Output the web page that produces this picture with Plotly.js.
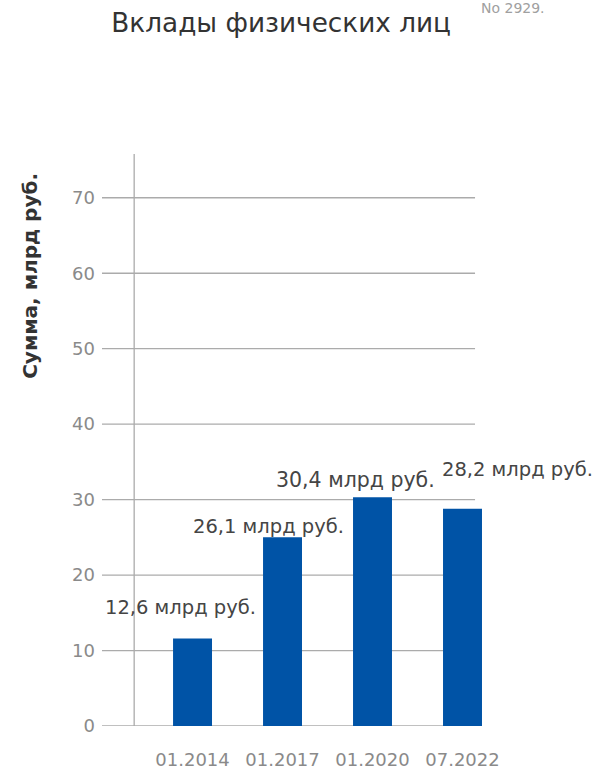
<!DOCTYPE html>
<html>
<head>
<meta charset="utf-8">
<script src="https://cdn.plot.ly/plotly-3.0.1.min.js"></script>
<style>
  html, body { margin: 0; padding: 0; background: #fff; }
  #chart { width: 602px; height: 770px; }
</style>
</head>
<body>
<div id="chart"></div>
<script>
// ---- data ----
const categories = ['01.2014', '01.2017', '01.2020', '07.2022'];
const values = [11.6, 25.0, 30.3, 28.8];
const valueLabels = ['12,6 млрд руб.', '26,1 млрд руб.', '30,4 млрд руб.', '28,2 млрд руб.'];
const yTickValues = [0, 10, 20, 30, 40, 50, 60, 70];
const yTickLabels = ['0', '10', '20', '30', '40', '50', '60', '70'];
const chartTitle = 'Вклады физических лиц';
const yTitle = 'Сумма, млрд руб.';
const noteText = 'No 2929.';

// ---- styles ----
const FONT = 'DejaVu Sans';
const barColor = '#0053A6';
const gridColor = '#ababab';
const labelShiftX = [-12, -14, -17, 55];
const labelShiftY = [31, 11, 17, 39];
const labelSizes = [19.5, 19.5, 20.5, 19.5];

const trace = {
  type: 'bar',
  x: categories,
  y: values,
  marker: { color: barColor },
  width: 0.433,
  hoverinfo: 'skip'
};

const gridShapes = yTickValues.map(v => ({
  type: 'line', xref: 'paper', yref: 'y',
  x0: 0, x1: 0.974, y0: v, y1: v,
  line: { color: gridColor, width: 1.3 },
  layer: 'below'
}));
gridShapes.push({
  type: 'line', xref: 'paper', yref: 'paper',
  x0: 0.084, x1: 0.084, y0: 0, y1: 1,
  line: { color: gridColor, width: 1.3 },
  layer: 'below'
});

// category axis: annotation x uses the category's serial index
const labelAnnotations = categories.map((c, i) => ({
  x: i, y: values[i], xref: 'x', yref: 'y',
  text: valueLabels[i], showarrow: false,
  xanchor: 'center', yanchor: 'middle',
  xshift: labelShiftX[i], yshift: labelShiftY[i],
  font: { family: FONT, size: labelSizes[i], color: '#454545' }
}));

labelAnnotations.push({
  xref: 'paper', yref: 'paper', x: -0.188, y: 0.787,
  text: '<b>' + yTitle + '</b>', textangle: -90, showarrow: false,
  xanchor: 'center', yanchor: 'middle',
  font: { family: FONT, size: 20, color: '#333333' }
});
labelAnnotations.push({
  xref: 'paper', yref: 'paper', x: 1.072, y: 1.255,
  text: noteText, showarrow: false,
  xanchor: 'center', yanchor: 'middle',
  font: { family: FONT, size: 14, color: '#a0a0a0' }
});

const layout = {
  width: 602, height: 770,
  margin: { l: 102, r: 117, t: 154, b: 44 },
  paper_bgcolor: '#ffffff', plot_bgcolor: '#ffffff',
  showlegend: false,
  title: {
    text: chartTitle,
    font: { family: FONT, size: 26.3, color: '#333333' },
    x: 0.467, xref: 'container', xanchor: 'center',
    y: 0.971, yref: 'container', yanchor: 'middle'
  },
  xaxis: {
    type: 'category',
    range: [-1.006, 3.25],
    showgrid: false, zeroline: false, showline: false,
    ticks: '', ticklabelstandoff: 21,
    tickfont: { family: FONT, size: 18, color: '#8a8a8a' },
    fixedrange: true
  },
  yaxis: {
    range: [0, 75.8],
    tickvals: yTickValues, ticktext: yTickLabels,
    showgrid: false, zeroline: false, showline: false,
    ticks: '', ticklabelstandoff: 6,
    tickfont: { family: FONT, size: 18, color: '#8a8a8a' },
    fixedrange: true
  },
  shapes: gridShapes,
  annotations: labelAnnotations
};

Plotly.newPlot('chart', [trace], layout, { displayModeBar: false, staticPlot: true });
</script>
</body>
</html>
